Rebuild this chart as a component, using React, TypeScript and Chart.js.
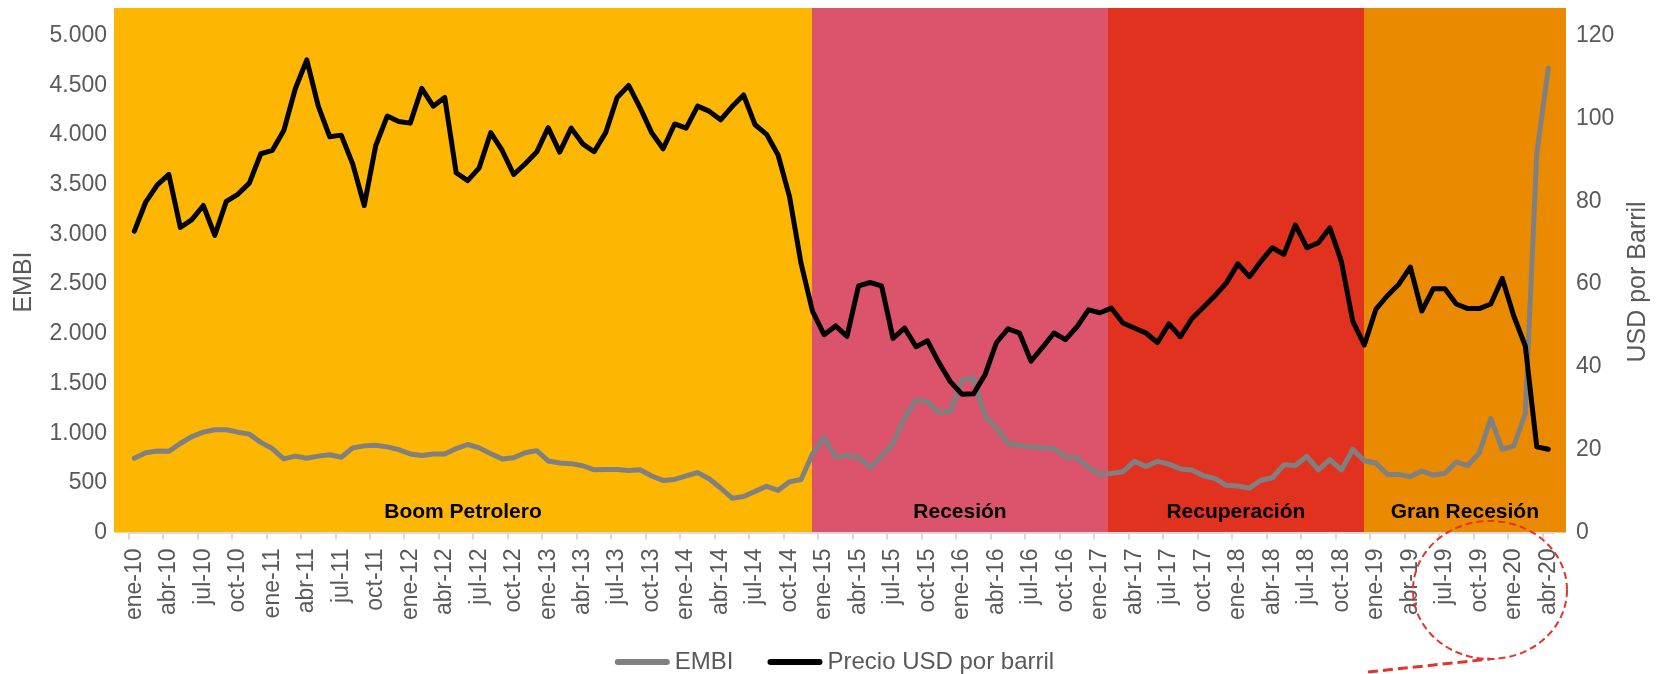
import React, { useEffect, useRef } from 'react';
import { Chart, registerables } from 'chart.js';

Chart.register(...registerables);

// ---------- DATA ----------
const categorias: string[] = [
  'ene-10','feb-10','mar-10','abr-10','may-10','jun-10','jul-10','ago-10','sep-10','oct-10','nov-10','dic-10',
  'ene-11','feb-11','mar-11','abr-11','may-11','jun-11','jul-11','ago-11','sep-11','oct-11','nov-11','dic-11',
  'ene-12','feb-12','mar-12','abr-12','may-12','jun-12','jul-12','ago-12','sep-12','oct-12','nov-12','dic-12',
  'ene-13','feb-13','mar-13','abr-13','may-13','jun-13','jul-13','ago-13','sep-13','oct-13','nov-13','dic-13',
  'ene-14','feb-14','mar-14','abr-14','may-14','jun-14','jul-14','ago-14','sep-14','oct-14','nov-14','dic-14',
  'ene-15','feb-15','mar-15','abr-15','may-15','jun-15','jul-15','ago-15','sep-15','oct-15','nov-15','dic-15',
  'ene-16','feb-16','mar-16','abr-16','may-16','jun-16','jul-16','ago-16','sep-16','oct-16','nov-16','dic-16',
  'ene-17','feb-17','mar-17','abr-17','may-17','jun-17','jul-17','ago-17','sep-17','oct-17','nov-17','dic-17',
  'ene-18','feb-18','mar-18','abr-18','may-18','jun-18','jul-18','ago-18','sep-18','oct-18','nov-18','dic-18',
  'ene-19','feb-19','mar-19','abr-19','may-19','jun-19','jul-19','ago-19','sep-19','oct-19','nov-19','dic-19',
  'ene-20','feb-20','mar-20','abr-20',
];

const embi: number[] = [
  748, 803, 821, 817, 896, 965, 1010, 1034, 1034, 1010, 990, 907,
  845, 741, 769, 748, 769, 783, 758, 852, 872, 879, 862, 834,
  790, 776, 790, 790, 845, 886, 852, 793, 741, 752, 803, 824,
  720, 700, 693, 672, 631, 634, 634, 624, 631, 569, 524, 534,
  569, 603, 541, 448, 345, 362, 414, 465, 424, 510, 534, 793,
  955, 759, 776, 759, 655, 769, 896, 1155, 1334, 1317, 1207, 1224,
  1534, 1558, 1172, 1052, 896, 879, 862, 852, 845, 759, 752, 655,
  585, 595, 612, 716, 664, 716, 688, 640, 630, 571, 544, 475,
  468, 447, 526, 551, 681, 674, 767, 630, 733, 630, 836, 723,
  699, 585, 585, 561, 619, 578, 595, 709, 674, 802, 1146, 836,
  871, 1197, 3813, 4673,
];

const precio: number[] = [
  72.8, 79.9, 84.0, 86.5, 73.7, 75.6, 79.0, 71.8, 80.0, 81.7, 84.4, 91.5,
  92.3, 97.1, 107.2, 114.2, 103.0, 95.6, 96.0, 89.0, 79.0, 93.5, 100.6, 99.3,
  98.9, 107.3, 103.0, 105.1, 86.9, 85.0, 88.1, 96.6, 92.3, 86.5, 89.1, 91.9,
  97.8, 91.9, 97.7, 93.9, 92.0, 96.6, 105.1, 108.0, 102.6, 96.6, 92.7, 98.7,
  97.7, 103.0, 101.8, 99.7, 102.9, 105.7, 98.5, 96.2, 91.2, 81.1, 65.0, 53.4,
  47.8, 49.9, 47.4, 59.6, 60.4, 59.6, 46.9, 49.4, 44.9, 46.3, 41.0, 36.4,
  33.4, 33.5, 38.1, 45.9, 49.2, 48.2, 41.4, 44.7, 48.2, 46.6, 49.7, 53.8,
  53.1, 54.2, 50.6, 49.4, 48.2, 45.9, 50.4, 47.3, 51.7, 54.4, 57.2, 60.3,
  64.9, 61.8, 65.5, 68.8, 67.2, 74.3, 68.8, 70.0, 73.6, 65.5, 51.0, 45.3,
  53.9, 57.2, 60.0, 64.1, 53.5, 58.9, 58.9, 55.2, 54.1, 54.1, 55.2, 61.4,
  52.3, 45.1, 20.7, 20.1,
];

// periods (in month units along the category axis)
const periodos: string[] = ['Boom Petrolero', 'Recesión', 'Recuperación', 'Gran Recesión'];
const periodoInicio: number[] = [0, 59.45, 85.2, 107.45];
const periodoFin: number[] = [59.45, 85.2, 107.45, 124];

const leftTicks: number[] = [0, 500, 1000, 1500, 2000, 2500, 3000, 3500, 4000, 4500, 5000];
const rightTicks: number[] = [0, 20, 40, 60, 80, 100, 120];

// ---------- STYLE ----------
const FONT = "'Liberation Sans', Arial, Helvetica, sans-serif";
const TXT = '#595959';
const COLOR_EMBI = '#808080';
const COLOR_PRECIO = '#000000';
const BAND_COLORS = ['#FDB601', '#DB546C', '#E0321F', '#EA8A00'];
const W = 1663;
const H = 674;

const fmt = (v: number) => String(v).replace(/\B(?=(\d{3})+(?!\d))/g, '.');

const decorPlugin = {
  id: 'decor',
  beforeDraw(chart: any) {
    const { ctx, chartArea } = chart;
    const n = categorias.length;
    const w = (chartArea.right - chartArea.left) / n;
    const top = 8;
    ctx.save();
    periodos.forEach((_, i) => {
      let x0 = chartArea.left + periodoInicio[i] * w;
      let x1 = chartArea.left + periodoFin[i] * w;
      if (i === 0) x0 -= 14.5;
      if (i === periodos.length - 1) x1 += 12;
      x0 = Math.round(x0);
      x1 = Math.round(x1);
      ctx.fillStyle = BAND_COLORS[i];
      ctx.fillRect(x0, top, x1 - x0, chartArea.bottom - top);
    });
    ctx.restore();
  },
  beforeDatasetsDraw(chart: any) {
    const { ctx, chartArea } = chart;
    const n = categorias.length;
    const w = (chartArea.right - chartArea.left) / n;
    ctx.save();
    ctx.font = `bold 21px ${FONT}`;
    ctx.fillStyle = '#000000';
    ctx.textAlign = 'center';
    ctx.textBaseline = 'middle';
    periodos.forEach((p, i) => {
      let x0 = chartArea.left + periodoInicio[i] * w;
      let x1 = chartArea.left + periodoFin[i] * w;
      if (i === 0) x0 -= 14.5;
      if (i === periodos.length - 1) x1 += 12;
      ctx.fillText(p, (x0 + x1) / 2, chartArea.bottom - 20);
    });
    ctx.restore();
  },
  afterDraw(chart: any) {
    const { ctx } = chart;
    ctx.save();
    // axis titles
    ctx.fillStyle = TXT;
    ctx.font = `25px ${FONT}`;
    ctx.textAlign = 'center';
    ctx.textBaseline = 'middle';
    ctx.save();
    ctx.translate(24, 282);
    ctx.rotate(-Math.PI / 2);
    ctx.fillText('EMBI', 0, 0);
    ctx.restore();
    ctx.save();
    ctx.translate(1638.5, 282);
    ctx.rotate(-Math.PI / 2);
    ctx.fillText('USD por Barril', 0, 0);
    ctx.restore();

    // legend
    const items = [
      { label: 'EMBI', color: COLOR_EMBI },
      { label: 'Precio USD por barril', color: COLOR_PRECIO },
    ];
    ctx.font = `24px ${FONT}`;
    ctx.textAlign = 'left';
    const lineW = 55;
    const gapText = 5;
    const gapItem = 34;
    const widths = items.map((it) => lineW + gapText + ctx.measureText(it.label).width);
    const total = widths.reduce((a, b) => a + b, 0) + gapItem * (items.length - 1);
    let x = 834.5 - total / 2;
    const ly = 662;
    items.forEach((it, i) => {
      ctx.strokeStyle = it.color;
      ctx.lineWidth = 6;
      ctx.lineCap = 'round';
      ctx.beginPath();
      ctx.moveTo(x + 3, ly);
      ctx.lineTo(x + lineW - 3, ly);
      ctx.stroke();
      ctx.fillStyle = TXT;
      ctx.fillText(it.label, x + lineW + gapText, ly);
      x += widths[i] + gapItem;
    });

    // red dashed annotation
    ctx.strokeStyle = '#E2352C';
    ctx.lineCap = 'butt';
    ctx.lineWidth = 2;
    ctx.setLineDash([7, 4]);
    ctx.beginPath();
    ctx.ellipse(1490, 590, 77, 69, 0, 0, Math.PI * 2);
    ctx.stroke();
    ctx.lineWidth = 3;
    ctx.setLineDash([10, 5]);
    ctx.beginPath();
    ctx.moveTo(1368, 672);
    ctx.lineTo(1490, 659);
    ctx.stroke();
    ctx.restore();
  },
};

export default function App() {
  const ref = useRef<HTMLCanvasElement | null>(null);

  useEffect(() => {
    if (!ref.current) return;
    Chart.defaults.font.family = FONT;
    const chart = new Chart(ref.current, {
      type: 'line',
      data: {
        labels: categorias,
        datasets: [
          {
            label: 'EMBI',
            data: embi,
            borderColor: COLOR_EMBI,
            backgroundColor: COLOR_EMBI,
            borderWidth: 5,
            pointRadius: 0,
            tension: 0,
            borderJoinStyle: 'round',
            borderCapStyle: 'round',
            yAxisID: 'y',
            order: 1,
          },
          {
            label: 'Precio USD por barril',
            data: precio,
            borderColor: COLOR_PRECIO,
            backgroundColor: COLOR_PRECIO,
            borderWidth: 5,
            pointRadius: 0,
            tension: 0,
            borderJoinStyle: 'round',
            borderCapStyle: 'round',
            yAxisID: 'y1',
            order: 0,
          },
        ],
      },
      options: {
        animation: false,
        responsive: true,
        maintainAspectRatio: false,
        devicePixelRatio: 1,
        layout: { padding: { top: 31.7, left: 0, right: 0, bottom: 0 } },
        plugins: {
          legend: { display: false },
          tooltip: { enabled: false },
        },
        scales: {
          x: {
            type: 'category',
            offset: true,
            afterFit: (s: any) => { s.height = 141.5; },
            grid: {
              display: true,
              drawOnChartArea: false,
              drawTicks: true,
              tickLength: 7,
              offset: true,
              lineWidth: 2,
              color: (c: any) => (c.index % 3 === 0 ? '#D9D9D9' : 'rgba(0,0,0,0)'),
            },
            border: { display: true, color: '#D9D9D9', width: 2 },
            ticks: {
              autoSkip: false,
              minRotation: 90,
              maxRotation: 90,
              padding: 9,
              color: TXT,
              font: { size: 23, family: FONT },
              callback: (_v: any, i: number) => (i % 3 === 0 ? categorias[i] : ''),
            },
          },
          y: {
            position: 'left',
            min: 0,
            max: 5000,
            afterFit: (s: any) => { s.width = 128.6; },
            afterBuildTicks: (s: any) => { s.ticks = leftTicks.map((v) => ({ value: v })); },
            grid: { display: false, drawTicks: false },
            border: { display: false },
            ticks: {
              padding: 21.6,
              color: TXT,
              font: { size: 23, family: FONT },
              callback: (v: any) => fmt(Number(v)),
            },
          },
          y1: {
            position: 'right',
            min: 0,
            max: 120,
            afterFit: (s: any) => { s.width = W - 1554; },
            afterBuildTicks: (s: any) => { s.ticks = rightTicks.map((v) => ({ value: v })); },
            grid: { display: false, drawTicks: false },
            border: { display: false },
            ticks: {
              padding: 22,
              color: TXT,
              font: { size: 23, family: FONT },
              callback: (v: any) => String(v),
            },
          },
        },
      },
      plugins: [decorPlugin],
    } as any);
    return () => chart.destroy();
  }, []);

  return (
    <div style={{ position: 'fixed', left: 0, top: 0, width: W, height: H, background: '#ffffff' }}>
      <canvas ref={ref} />
    </div>
  );
}
